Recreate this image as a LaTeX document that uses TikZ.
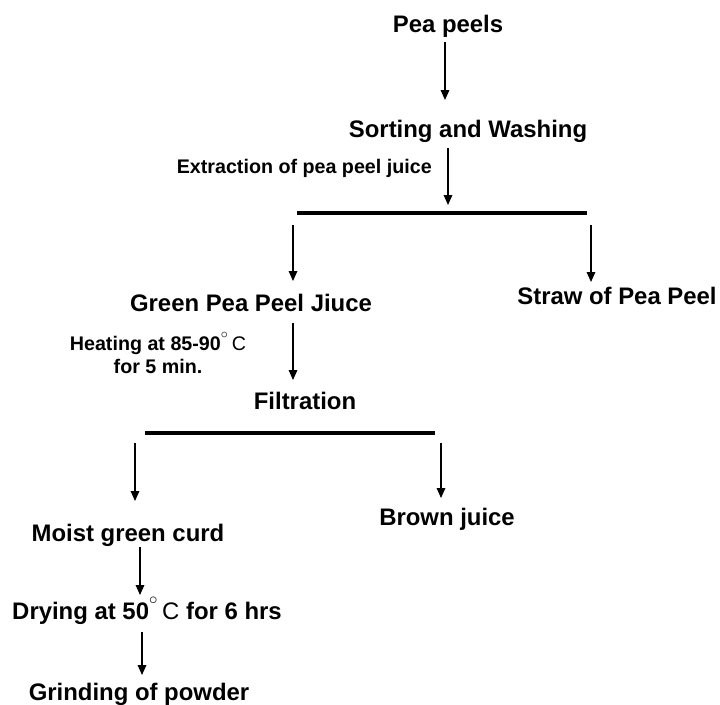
\documentclass[tikz,border=0pt]{standalone}
\usepackage{fontspec}
\setmainfont{Liberation Sans}
\usetikzlibrary{arrows.meta}
\tikzset{
  step label/.style={font=\bfseries\fontsize{17}{20}\selectfont,anchor=base,inner sep=0pt},
  note label/.style={font=\bfseries\fontsize{14}{16.3}\selectfont,anchor=base,inner sep=0pt},
  flow/.style={draw=black,line width=1pt,-{Triangle[width=6pt,length=7pt]}},
  split bar/.style={draw=black,line width=2.8pt}
}
\newcommand{\degC}{\raisebox{0.45ex}{$^{\circ}$}\,{\mdseries C}}

\begin{document}
\begin{tikzpicture}[x=0.025cm,y=-0.025cm]
  \useasboundingbox (0,0) rectangle (720,704);
  % process steps
  \node[step label] (peels) at (448,32) {Pea peels};
  \node[step label] (sorting) at (468,137) {Sorting and Washing};
  \node[note label,anchor=base east] (extract) at (432,173) {Extraction of pea peel juice};
  \node[step label] (juice) at (251,311) {Green Pea Peel Jiuce};
  \node[step label] (straw) at (617,304) {Straw of Pea Peel};
  \node[note label,align=center,anchor=north] (heating) at (158,332) {Heating at 85-90\degC\\for 5 min.};
  \node[step label] (filtration) at (305,409) {Filtration};
  \node[step label] (curd) at (128,541) {Moist green curd};
  \node[step label] (brown) at (447,525) {Brown juice};
  \node[step label] (drying) at (147,619) {Drying at 50\degC{} for 6 hrs};
  \node[step label] (grinding) at (139,700) {Grinding of powder};
  % split bars
  \coordinate (bar1l) at (297,213);
  \coordinate (bar1r) at (587,213);
  \coordinate (bar2l) at (145,433);
  \coordinate (bar2r) at (435,433);
  \draw[split bar] (bar1l) -- (bar1r);
  \draw[split bar] (bar2l) -- (bar2r);
  % arrows
  \foreach \i/\xa/\ya/\xb/\yb in {1/445/42/445/100, 2/448/148/448/205,
      3/293/225/293/281, 4/591/225/591/282, 5/293/323/293/380,
      6/135/443/135/501, 7/441/443/441/498, 8/140/547/140/595,
      9/142/632/142/675} {
    \coordinate (s\i) at (\xa,\ya);
    \coordinate (e\i) at (\xb,\yb);
    \draw[flow] (s\i) -- (e\i);
  }
\end{tikzpicture}
\end{document}
